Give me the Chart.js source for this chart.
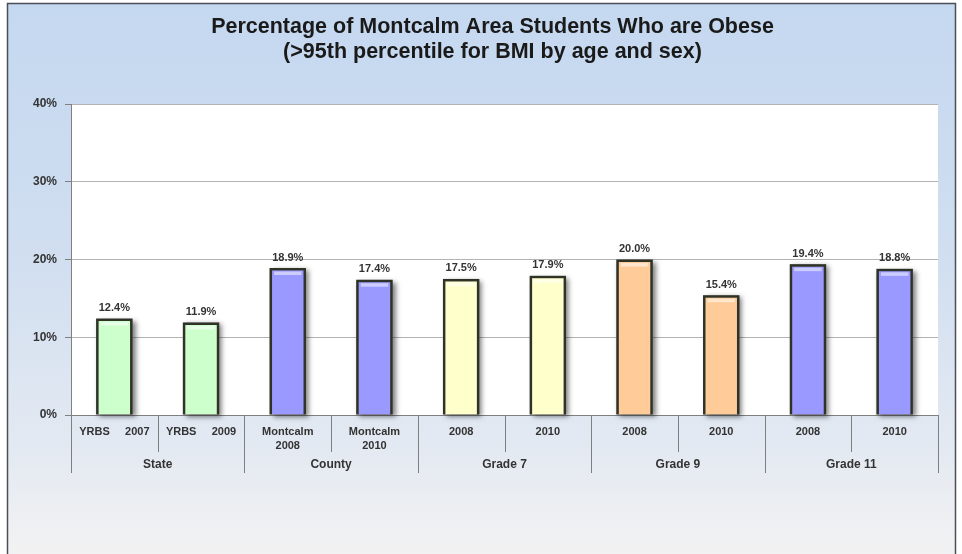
<!DOCTYPE html>
<html>
<head>
<meta charset="utf-8">
<script src="https://cdn.jsdelivr.net/npm/chart.js@4/dist/chart.umd.min.js"></script>
<style>
  html, body { margin: 0; padding: 0; background: #ffffff; }
  #wrap { width: 962px; height: 554px; }
</style>
</head>
<body>
<div id="wrap"><canvas id="c" width="962" height="554"></canvas></div>
<script>
// Obesity share (>95th BMI percentile) by source and year
const categories = [
  "YRBS     2007", "YRBS     2009",
  ["Montcalm", "2008"], ["Montcalm", "2010"],
  "2008", "2010",
  "2008", "2010",
  "2008", "2010"
];
const values = [12.4, 11.9, 18.9, 17.4, 17.5, 17.9, 20.0, 15.4, 19.4, 18.8];
const groups = ["State", "County", "Grade 7", "Grade 9", "Grade 11"];
const groupSpans = [2, 2, 2, 2, 2];
const yTicks = [0, 10, 20, 30, 40];
const titleLines = [
  "Percentage of Montcalm Area Students Who are Obese",
  "(>95th percentile for BMI by age and sex)"
];

const fills = ["#ccffcc", "#ccffcc", "#9999ff", "#9999ff", "#ffffcc", "#ffffcc", "#ffcc99", "#ffcc99", "#9999ff", "#9999ff"];
const FONT = "'Liberation Sans', Arial, sans-serif";

// page background, frame and white plot area
const backdrop = {
  id: "backdrop",
  beforeDraw(chart) {
    const { ctx, width, height, chartArea: a } = chart;
    ctx.save();
    const g = ctx.createLinearGradient(0, 0, 0, height);
    g.addColorStop(0, "#c4d8f0");
    g.addColorStop(0.45, "#d0def0");
    g.addColorStop(0.8, "#e3e9f2");
    g.addColorStop(1, "#f2f2f2");
    ctx.fillStyle = g;
    ctx.fillRect(0, 0, width, height);
    ctx.fillStyle = "#ffffff";
    ctx.fillRect(0, 0, 7, height);
    ctx.fillRect(956, 0, 6, height);
    ctx.fillRect(0, 0, width, 3);
    ctx.strokeStyle = "#4a4f57";
    ctx.lineWidth = 1.5;
    ctx.beginPath();
    ctx.moveTo(7.5, height);
    ctx.lineTo(7.5, 3.5);
    ctx.lineTo(955.5, 3.5);
    ctx.lineTo(955.5, height);
    ctx.stroke();
    ctx.fillStyle = "#ffffff";
    ctx.fillRect(a.left, a.top, a.right - a.left, a.bottom - a.top);

    // two-line heading, centred over the frame
    ctx.font = "bold 21.5px " + FONT;
    ctx.fillStyle = "#1a1a1a";
    ctx.textAlign = "center";
    ctx.textBaseline = "middle";
    titleLines.forEach((t, i) => ctx.fillText(t, 492.5, 27 + i * 25));
    ctx.restore();
  }
};

// soft drop shadow cast by each bar (bars clip their own shadow, so it is painted first)
const barShadow = {
  id: "barShadow",
  beforeDatasetsDraw(chart) {
    const ctx = chart.ctx;
    const meta = chart.getDatasetMeta(0);
    ctx.save();
    ctx.shadowColor = "rgba(0,0,0,0.5)";
    ctx.shadowBlur = 5;
    ctx.shadowOffsetX = 3;
    ctx.shadowOffsetY = 2;
    ctx.fillStyle = "#555555";
    meta.data.forEach(bar => {
      const w = bar.width;
      ctx.fillRect(bar.x - w / 2, bar.y, w, bar.base - bar.y);
    });
    ctx.restore();
  }
};

// glossy strip near the top of each bar, then the value labels
const valueLabels = {
  id: "valueLabels",
  afterDatasetsDraw(chart) {
    const { ctx } = chart;
    const meta = chart.getDatasetMeta(0);
    ctx.save();
    ctx.fillStyle = "rgba(255,255,255,0.5)";
    meta.data.forEach(bar => {
      const w = bar.width - 9;
      ctx.fillRect(bar.x - w / 2, bar.y + 3.5, w, 3.5);
    });
    ctx.font = "bold 11px " + FONT;
    ctx.fillStyle = "#333333";
    ctx.textAlign = "center";
    ctx.textBaseline = "bottom";
    meta.data.forEach((bar, i) => {
      ctx.fillText(values[i].toFixed(1) + "%", bar.x, bar.y - 5);
    });
    ctx.restore();
  }
};

// category separators and group captions under the x axis
const groupAxis = {
  id: "groupAxis",
  afterDraw(chart) {
    const { ctx, chartArea: a } = chart;
    const x = chart.scales.x;
    const step = (a.right - a.left) / categories.length;
    ctx.save();
    ctx.strokeStyle = "#7f7f7f";
    ctx.lineWidth = 1;
    let idx = 0;
    const boundaries = new Set([0]);
    groupSpans.forEach(n => { idx += n; boundaries.add(idx); });
    for (let i = 0; i <= categories.length; i++) {
      const px = Math.round(x.getPixelForValue(i) - step / 2) + 0.5;
      const len = boundaries.has(i) ? 58 : 37;
      ctx.beginPath();
      ctx.moveTo(px, a.bottom);
      ctx.lineTo(px, a.bottom + len);
      ctx.stroke();
    }
    ctx.font = "bold 12px " + FONT;
    ctx.fillStyle = "#333333";
    ctx.textAlign = "center";
    ctx.textBaseline = "middle";
    let start = 0;
    groups.forEach((g, k) => {
      const end = start + groupSpans[k] - 1;
      const cx = (x.getPixelForValue(start) + x.getPixelForValue(end)) / 2;
      ctx.fillText(g, cx, a.bottom + 50);
      start = end + 1;
    });
    ctx.restore();
  }
};

new Chart(document.getElementById("c"), {
  type: "bar",
  data: {
    labels: categories,
    datasets: [{
      data: values,
      backgroundColor: fills,
      borderColor: "#2f3326",
      borderWidth: 2.5,
      borderSkipped: "bottom",
      barPercentage: 0.42,
      categoryPercentage: 1.0
    }]
  },
  options: {
    responsive: false,
    animation: false,
    devicePixelRatio: 1,
    layout: { padding: { left: 10, right: 24, top: 104, bottom: 0 } },
    plugins: {
      legend: { display: false },
      tooltip: { enabled: false },
      title: { display: false }
    },
    scales: {
      x: {
        grid: { display: false },
        border: { display: true, color: "#7f7f7f", width: 1 },
        ticks: {
          color: "#333333",
          font: { family: FONT, size: 11, weight: "bold", lineHeight: 1.36 },
          padding: 1,
          maxRotation: 0,
          autoSkip: false
        },
        afterFit(scale) { scale.height = 139; }
      },
      y: {
        min: 0,
        max: 40,
        afterBuildTicks(scale) { scale.ticks = yTicks.map(v => ({ value: v })); },
        grid: { color: "#b3b3b3", lineWidth: 1, tickLength: 6, tickColor: "#808080" },
        border: { display: true, color: "#808080", width: 1 },
        ticks: {
          color: "#333333",
          font: { family: FONT, size: 12, weight: "bold" },
          padding: 8,
          callback: v => v + "%"
        },
        afterFit(scale) { scale.width = 61; }
      }
    }
  },
  plugins: [backdrop, barShadow, valueLabels, groupAxis]
});
</script>
</body>
</html>
